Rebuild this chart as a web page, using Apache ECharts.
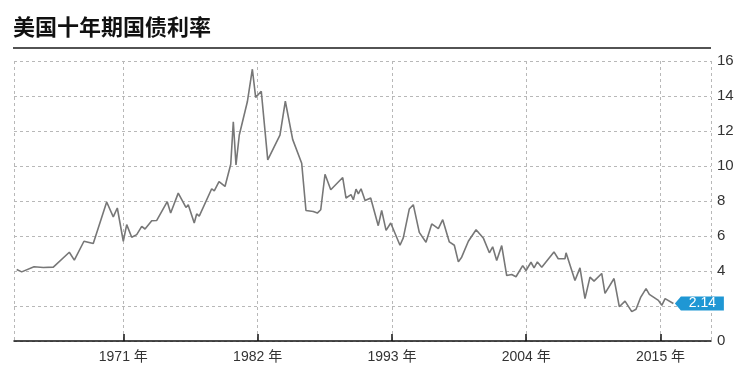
<!DOCTYPE html>
<html>
<head>
<meta charset="utf-8">
<script src="https://cdn.jsdelivr.net/npm/echarts@6/dist/echarts.min.js"></script>
<style>
html,body{margin:0;padding:0;background:#fff;}
#chart{width:750px;height:381px;}
</style>
</head>
<body>
<div id="chart"></div>
<script>
const title = '美国十年期国债利率';
const years = [1962.27,1962.68,1963.69,1964.45,1965.27,1966.58,1966.99,1967.78,1968.54,1969.64,1970.18,1970.51,1971.0,1971.28,1971.69,1972.10,1972.51,1972.78,1973.33,1973.74,1974.60,1974.88,1975.50,1976.13,1976.32,1976.81,1977.01,1977.22,1978.24,1978.45,1978.84,1979.33,1979.80,1980.01,1980.23,1980.50,1981.16,1981.57,1981.84,1982.30,1982.83,1983.83,1984.27,1984.87,1985.61,1985.96,1986.56,1986.89,1987.17,1987.52,1987.99,1988.97,1989.24,1989.65,1989.84,1990.06,1990.25,1990.47,1990.80,1991.26,1991.88,1992.16,1992.52,1992.90,1993.66,1993.93,1994.42,1994.75,1995.24,1995.79,1996.26,1996.80,1997.16,1997.70,1998.11,1998.44,1998.71,1999.26,1999.89,2000.48,2000.98,2001.25,2001.58,2001.99,2002.40,2002.81,2003.16,2003.71,2003.98,2004.39,2004.64,2004.91,2005.27,2006.27,2006.62,2007.17,2007.26,2007.99,2008.40,2008.81,2009.22,2009.55,2010.18,2010.45,2011.19,2011.62,2012.09,2012.64,2012.99,2013.38,2013.81,2014.08,2014.82,2015.10,2015.37,2016.05];
const yields = [4.09,3.95,4.24,4.2,4.22,5.07,4.62,5.7,5.57,7.94,7.09,7.6,5.7,6.65,5.93,6.08,6.55,6.4,6.87,6.89,7.96,7.31,8.45,7.63,7.78,6.74,7.26,7.14,8.7,8.58,9.11,8.83,10.1,12.53,10.06,11.77,13.67,15.53,13.92,14.27,10.35,11.77,13.7,11.52,10.16,7.46,7.4,7.31,7.5,9.53,8.64,9.34,8.17,8.36,8.07,8.68,8.41,8.7,8.03,8.17,6.59,7.46,6.32,6.74,5.47,5.89,7.54,7.79,6.21,5.64,6.69,6.42,6.93,5.66,5.47,4.52,4.79,5.7,6.36,5.89,5.04,5.38,4.6,5.45,3.74,3.8,3.67,4.31,4.03,4.5,4.18,4.52,4.22,5.09,4.7,4.7,5.04,3.46,4.18,2.42,3.65,3.42,3.86,2.72,3.57,1.96,2.28,1.68,1.81,2.51,2.99,2.66,2.32,2.04,2.42,2.14];
const xTickYears = [1971, 1982, 1993, 2004, 2015];
const xMin = 1962.05, xMax = 2019.13;
const lastLabel = '2.14';

const FONT = "'Liberation Sans', 'Noto Sans CJK SC', sans-serif";
const data = years.map((y, i) => [y, yields[i]]);
const lastPoint = data[data.length - 1];

const chart = echarts.init(document.getElementById('chart'), null, {renderer: 'canvas'});
chart.setOption({
  animation: false,
  backgroundColor: '#fff',
  title: {
    text: title, left: 8, top: 11,
    textStyle: {fontFamily: "'Noto Sans CJK SC', sans-serif", fontSize: 22, fontWeight: 'bold', color: '#111'}
  },
  graphic: [{
    type: 'line', shape: {x1: 13, y1: 48, x2: 711, y2: 48},
    style: {stroke: '#1a1a1a', lineWidth: 1.5}, z: 10
  }],
  grid: {left: 14, right: 39, top: 61, bottom: 40, containLabel: false},
  xAxis: [{
    type: 'value', min: xMin, max: xMax,
    axisLine: {show: true, lineStyle: {color: '#111', width: 1.5}},
    axisTick: {show: true, inside: true, length: 7, customValues: xTickYears, lineStyle: {color: '#111', width: 1.5}},
    axisLabel: {customValues: xTickYears, formatter: v => v + ' 年', color: '#333', fontSize: 14, fontFamily: FONT, margin: 9},
    splitLine: {show: false}
  }, {
    type: 'value', min: xMin, max: xMax, position: 'bottom',
    axisLine: {show: false}, axisLabel: {show: false},
    axisTick: {show: false, customValues: [xMin].concat(xTickYears, [xMax])},
    splitLine: {show: true, lineStyle: {color: '#b8b8b8', type: [3, 3], width: 1}}
  }],
  yAxis: {
    type: 'value', position: 'right', min: 0, max: 16, interval: 2,
    axisLine: {show: false}, axisTick: {show: false},
    axisLabel: {color: '#333', fontSize: 15, fontFamily: FONT, margin: 6,
      formatter: v => (v === 2 ? '' : String(v))},
    splitLine: {show: true, lineStyle: {color: '#b8b8b8', type: [3, 3], width: 1}}
  },
  series: [{
    type: 'line', data: data, xAxisIndex: 0,
    symbol: 'none', showSymbol: false,
    lineStyle: {color: '#777', width: 1.6},
    z: 3,
    markPoint: {
      silent: true,
      data: [{coord: lastPoint, value: lastLabel}],
      symbol: 'path://M0,7L6,0L49,0L49,14L6,14Z',
      symbolSize: [49, 14],
      symbolKeepAspect: false,
      symbolOffset: [26, 0],
      itemStyle: {color: '#1f97d4'},
      label: {show: true, formatter: lastLabel, color: '#fff', fontSize: 14, fontFamily: FONT, offset: [3, 0]}
    }
  }]
});
</script>
</body>
</html>
